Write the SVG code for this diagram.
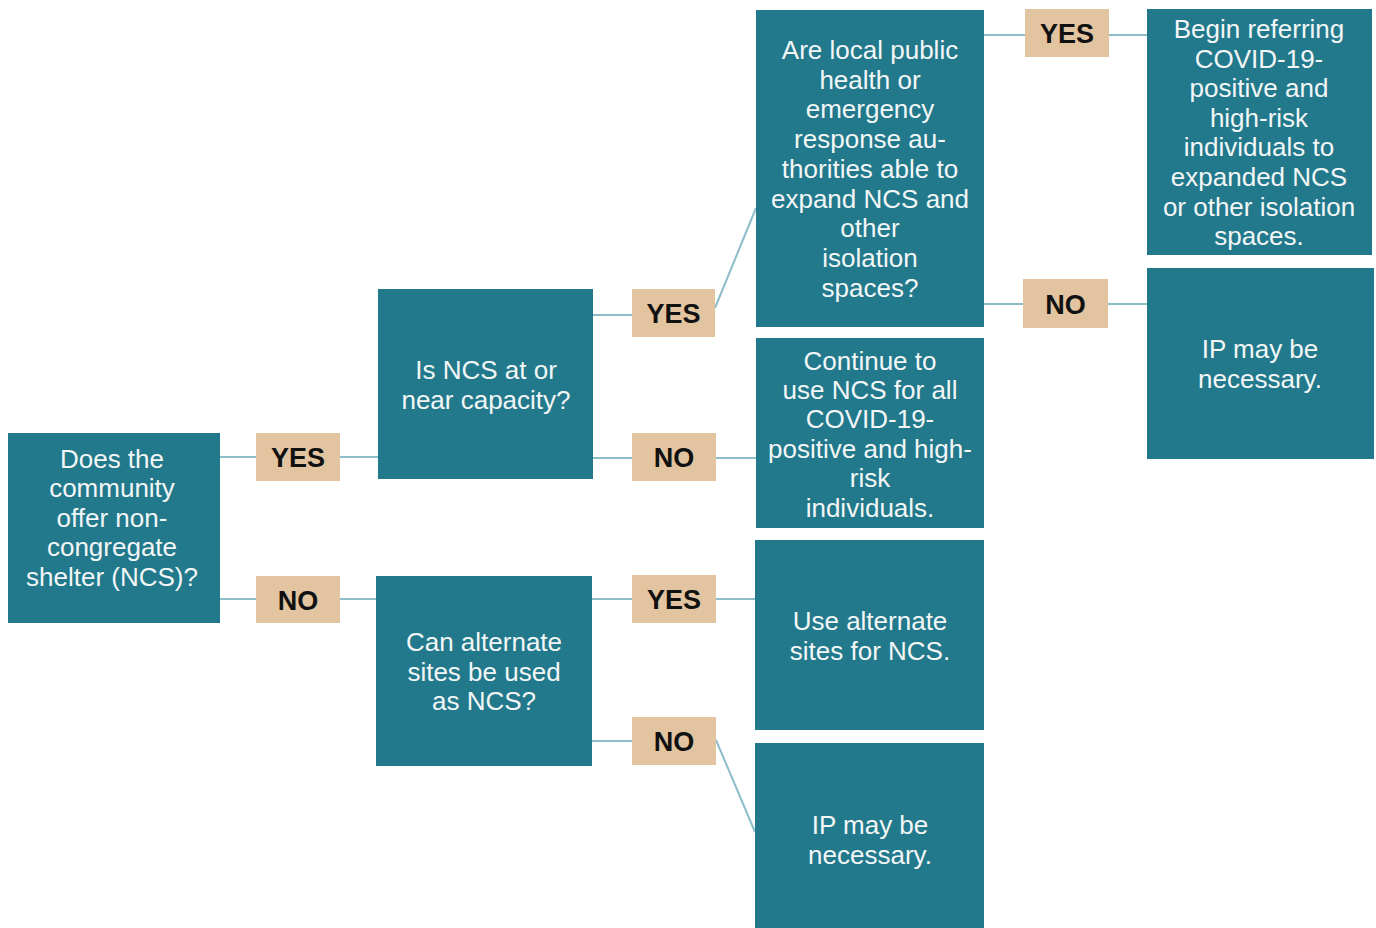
<svg xmlns="http://www.w3.org/2000/svg" width="1376" height="928" viewBox="0 0 1376 928">
<style>
.box{fill:#22798b}
.lab{fill:#e3c4a0}
.t{font-family:"Liberation Sans",Arial,sans-serif;font-size:26px;fill:#f2f6f7;text-anchor:middle}
.l{font-family:"Liberation Sans",Arial,sans-serif;font-size:27px;font-weight:bold;fill:#111;text-anchor:middle}
.c{stroke:#8dbdc9;stroke-width:2;fill:none}
</style>
<rect width="1376" height="928" fill="#fff"/>
<g id="connectors">
<line class="c" x1="220" y1="457" x2="378" y2="457"/>
<line class="c" x1="220" y1="599" x2="376" y2="599"/>
<line class="c" x1="593" y1="315" x2="632" y2="315"/>
<line class="c" x1="715" y1="308" x2="756" y2="208"/>
<line class="c" x1="593" y1="458" x2="756" y2="458"/>
<line class="c" x1="984" y1="35" x2="1147" y2="35"/>
<line class="c" x1="984" y1="304" x2="1147" y2="304"/>
<line class="c" x1="592" y1="599" x2="755" y2="599"/>
<line class="c" x1="592" y1="741" x2="632" y2="741"/>
<line class="c" x1="716" y1="740" x2="755" y2="832"/>
</g>
<g id="n1"><rect class="box" x="8" y="433" width="212" height="190"/>
<text class="t"><tspan x="112" y="468">Does the</tspan><tspan x="112" y="497.4">community</tspan><tspan x="112" y="526.8">offer non-</tspan><tspan x="112" y="556.2">congregate</tspan><tspan x="112" y="585.6">shelter (NCS)?</tspan></text></g>
<g id="n2"><rect class="box" x="378" y="289" width="215" height="190"/>
<text class="t"><tspan x="486" y="379">Is NCS at or</tspan><tspan x="486" y="408.5">near capacity?</tspan></text></g>
<g id="n3"><rect class="box" x="756" y="10" width="228" height="317"/>
<text class="t"><tspan x="870" y="59">Are local public</tspan><tspan x="870" y="88.7">health or</tspan><tspan x="870" y="118.4">emergency</tspan><tspan x="870" y="148.1">response au-</tspan><tspan x="870" y="177.8">thorities able to</tspan><tspan x="870" y="207.5">expand NCS and</tspan><tspan x="870" y="237.2">other</tspan><tspan x="870" y="266.9">isolation</tspan><tspan x="870" y="296.6">spaces?</tspan></text></g>
<g id="n4"><rect class="box" x="1147" y="9" width="225" height="246"/>
<text class="t"><tspan x="1259" y="38">Begin referring</tspan><tspan x="1259" y="67.6">COVID-19-</tspan><tspan x="1259" y="97.2">positive and</tspan><tspan x="1259" y="126.8">high-risk</tspan><tspan x="1259" y="156.4">individuals to</tspan><tspan x="1259" y="186">expanded NCS</tspan><tspan x="1259" y="215.6">or other isolation</tspan><tspan x="1259" y="245.2">spaces.</tspan></text></g>
<g id="n5"><rect class="box" x="1147" y="268" width="227" height="191"/>
<text class="t"><tspan x="1260" y="358">IP may be</tspan><tspan x="1260" y="388">necessary.</tspan></text></g>
<g id="n6"><rect class="box" x="756" y="338" width="228" height="190"/>
<text class="t"><tspan x="870" y="369.5">Continue to</tspan><tspan x="870" y="398.9">use NCS for all</tspan><tspan x="870" y="428.3">COVID-19-</tspan><tspan x="870" y="457.7">positive and high-</tspan><tspan x="870" y="487.1">risk</tspan><tspan x="870" y="516.5">individuals.</tspan></text></g>
<g id="n7"><rect class="box" x="376" y="576" width="216" height="190"/>
<text class="t"><tspan x="484" y="651">Can alternate</tspan><tspan x="484" y="680.5">sites be used</tspan><tspan x="484" y="710">as NCS?</tspan></text></g>
<g id="n8"><rect class="box" x="755" y="540" width="229" height="190"/>
<text class="t"><tspan x="870" y="630">Use alternate</tspan><tspan x="870" y="660">sites for NCS.</tspan></text></g>
<g id="n9"><rect class="box" x="755" y="743" width="229" height="190"/>
<text class="t"><tspan x="870" y="834">IP may be</tspan><tspan x="870" y="864">necessary.</tspan></text></g>
<g id="l1"><rect class="lab" x="256" y="433" width="84" height="48"/><text class="l" x="298" y="467">YES</text></g>
<g id="l2"><rect class="lab" x="256" y="576" width="84" height="47"/><text class="l" x="298" y="609.5">NO</text></g>
<g id="l3"><rect class="lab" x="632" y="289" width="83" height="48"/><text class="l" x="673.5" y="323">YES</text></g>
<g id="l4"><rect class="lab" x="632" y="433" width="84" height="48"/><text class="l" x="674" y="467">NO</text></g>
<g id="l5"><rect class="lab" x="1025" y="9" width="84" height="48"/><text class="l" x="1067" y="43">YES</text></g>
<g id="l6"><rect class="lab" x="1023" y="279" width="85" height="49"/><text class="l" x="1065.5" y="313.5">NO</text></g>
<g id="l7"><rect class="lab" x="632" y="575" width="84" height="48"/><text class="l" x="674" y="609">YES</text></g>
<g id="l8"><rect class="lab" x="632" y="717" width="84" height="48"/><text class="l" x="674" y="751">NO</text></g>
</svg>
